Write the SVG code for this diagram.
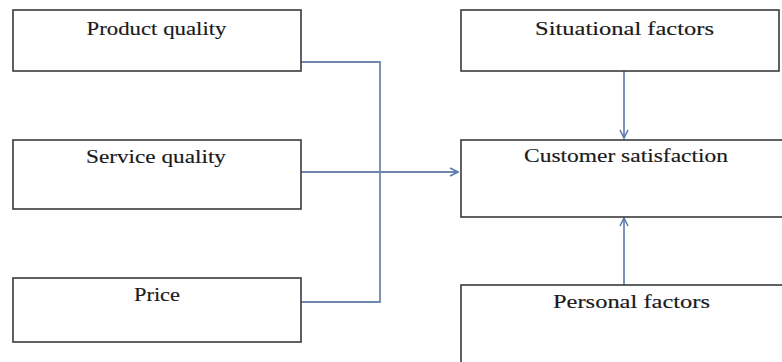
<svg xmlns="http://www.w3.org/2000/svg" width="782" height="362" viewBox="0 0 782 362">
<defs>
<style>
.box{fill:#fff;stroke:#3a3a3a;stroke-width:1.6}
.lbl{font-family:"Liberation Serif","Times New Roman",serif;font-size:19px;fill:#1a1a1a;stroke:#1a1a1a;stroke-width:0.15}
.con{fill:none;stroke:#6f87ad;stroke-width:1.8}
</style>
<marker id="ah" viewBox="0 0 10 10" refX="9" refY="5" markerWidth="10" markerHeight="10" markerUnits="userSpaceOnUse" orient="auto">
<path d="M1,1 L9,5 L1,9" fill="none" stroke="#5a7bb0" stroke-width="1.6"/>
</marker>
</defs>
<rect width="782" height="362" fill="#fff"/>
<g id="connectors">
<polyline class="con" points="301,62 380,62 380,302 301,302"/>
<line class="con" x1="301" y1="172" x2="458" y2="172" marker-end="url(#ah)"/>
<line class="con" x1="624" y1="71" x2="624" y2="138" marker-end="url(#ah)"/>
<line class="con" x1="624" y1="285" x2="624" y2="218" marker-end="url(#ah)"/>
</g>
<g id="product-quality">
<rect class="box" x="13" y="10" width="288" height="61"/>
<text class="lbl" x="86.5" y="35" textLength="140" lengthAdjust="spacingAndGlyphs">Product quality</text>
</g>
<g id="service-quality">
<rect class="box" x="13" y="140" width="288" height="69"/>
<text class="lbl" x="86" y="163" textLength="140" lengthAdjust="spacingAndGlyphs">Service quality</text>
</g>
<g id="price">
<rect class="box" x="13" y="278" width="288" height="64"/>
<text class="lbl" x="134" y="301" textLength="46" lengthAdjust="spacingAndGlyphs">Price</text>
</g>
<g id="situational-factors">
<rect class="box" x="461" y="10" width="318" height="61"/>
<text class="lbl" x="535" y="35" textLength="179" lengthAdjust="spacingAndGlyphs">Situational factors</text>
</g>
<g id="customer-satisfaction">
<rect class="box" x="461" y="140" width="322" height="77"/>
<text class="lbl" x="524" y="162" textLength="204" lengthAdjust="spacingAndGlyphs">Customer satisfaction</text>
</g>
<g id="personal-factors">
<rect class="box" x="461" y="285" width="322" height="90"/>
<text class="lbl" x="553" y="308" textLength="157" lengthAdjust="spacingAndGlyphs">Personal factors</text>
</g>
</svg>
